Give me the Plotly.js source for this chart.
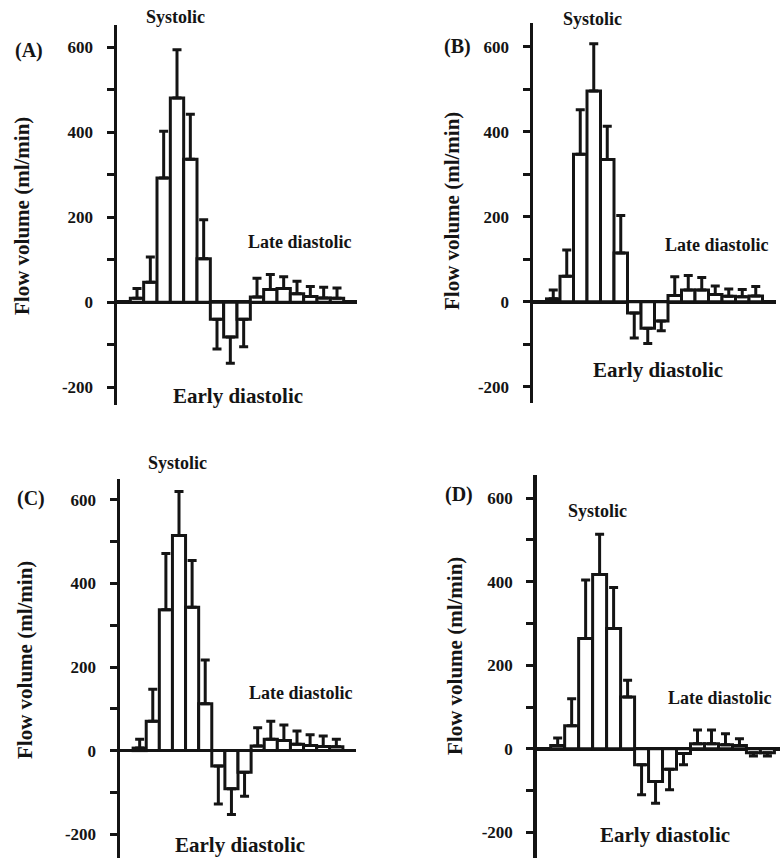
<!DOCTYPE html>
<html><head><meta charset="utf-8">
<script src="https://cdn.plot.ly/plotly-3.0.1.min.js"></script>
<style>html,body{margin:0;padding:0;background:#fff}#chart{width:780px;height:858px}</style>
</head><body><div id="chart"></div>
<script>
// time intervals across one cardiac cycle (16 bins)
const intervals = [1,2,3,4,5,6,7,8,9,10,11,12,13,14,15,16];

// Panel A
const meanA = [9, 47, 292, 480, 336, 102, -40, -82, -40, 12, 30, 32, 20, 13, 10, 9];
const sdA   = [23, 59, 110, 114, 106, 92, 70, 62, 65, 44, 35, 28, 29, 24, 25, 24];
// Panel B
const meanB = [7, 60, 347, 496, 335, 115, -26, -62, -45, 15, 28, 28, 17, 13, 12, 14];
const sdB   = [21, 62, 105, 111, 78, 88, 59, 36, 23, 44, 34, 29, 20, 17, 17, 22];
// Panel C
const meanC = [6, 70, 337, 515, 343, 112, -37, -91, -52, 11, 27, 24, 15, 12, 10, 9];
const sdC   = [21, 77, 135, 105, 112, 105, 91, 62, 57, 44, 43, 37, 32, 26, 25, 18];
// Panel D
const meanD = [8, 55, 264, 417, 288, 124, -38, -78, -49, -11, 12, 12, 10, 8, -9, -9];
const sdD   = [18, 65, 140, 96, 98, 40, 72, 52, 49, 27, 33, 33, 26, 16, 8, 8];

const yTickVals = [-200, -100, 0, 100, 200, 300, 400, 500, 600];
const yTickText = ['-200', '', '0', '', '200', '', '400', '', '600'];
const panelLabels = ['(A)', '(B)', '(C)', '(D)'];
const phaseLabels = ['Systolic', 'Late diastolic', 'Early diastolic'];
const yTitleText = 'Flow volume (ml/min)';

const INK = '#141414';
const FONT = 'Liberation Serif, Times New Roman, serif';
const W = 780, H = 858;

const means = [meanA, meanB, meanC, meanD];
const sds = [sdA, sdB, sdC, sdD];

// panel geometry (pixels)
const panels = [
  {x0:117, x1:357, y0:25,  y1:405, xr:[-0.5,17.5], yr:[-242,652],
   lab:[29,50], yt:[22,216], sys:[175,17], late:[300,242], early:[238,396]},
  {x0:533, x1:776, y0:23,  y1:403, xr:[-0.5,17.5], yr:[-238,656],
   lab:[457,47], yt:[452,211], sys:[592,19], late:[717,245], early:[658,370]},
  {x0:120, x1:356, y0:479, y1:858, xr:[-0.5,17.5], yr:[-257,650],
   lab:[31,498], yt:[25,660], sys:[177,463], late:[301,693], early:[240,845]},
  {x0:536.7, x1:780, y0:475, y1:858, xr:[-0.5,16.9], yr:[-261,655],
   lab:[459,495], yt:[455,656], sys:[597,511], late:[720,698], early:[665,835]}
];

const px = v => v / W;
const py = v => 1 - v / H;

const data = [];
const layout = {
  width: W, height: H,
  margin: {l:0, r:0, t:0, b:0},
  paper_bgcolor: '#fff', plot_bgcolor: 'rgba(0,0,0,0)',
  showlegend: false,
  bargap: 0,
  font: {family: FONT, color: INK},
  annotations: []
};

panels.forEach((p, i) => {
  const n = i === 0 ? '' : String(i + 1);
  const m = means[i], s = sds[i];
  data.push({
    type: 'bar', x: intervals, y: m, width: 1,
    xaxis: 'x' + n, yaxis: 'y' + n,
    marker: {color: '#ffffff', line: {color: INK, width: 3}},
    error_y: {
      type: 'data', symmetric: false,
      array: s.map((v, k) => m[k] >= 0 ? v : 0),
      arrayminus: s.map((v, k) => m[k] < 0 ? v : 0),
      color: INK, thickness: 3, width: 4.5
    },
    hoverinfo: 'skip'
  });
  layout['xaxis' + n] = {
    domain: [px(p.x0), Math.min(1, px(p.x1))], range: p.xr, anchor: 'y' + n,
    showline: false, showticklabels: false, ticks: '', showgrid: false, zeroline: false,
    fixedrange: true
  };
  layout['yaxis' + n] = {
    domain: [Math.max(0, py(p.y1)), py(p.y0)], range: p.yr, anchor: 'x' + n,
    showline: true, linecolor: INK, linewidth: 3.5,
    ticks: 'outside', ticklen: 7, tickwidth: 3, tickcolor: INK,
    tickvals: yTickVals, ticktext: yTickText.map(t => t ? '<b>' + t + '</b>' : ''),
    ticklabelstandoff: 10,
    tickfont: {family: FONT, size: 17, color: INK, weight: 700},
    showgrid: false, zeroline: true, zerolinecolor: INK, zerolinewidth: 3.5,
    fixedrange: true
  };
  const ann = (xy, text, size, extra) => Object.assign({
    xref: 'paper', yref: 'paper', x: px(xy[0]), y: py(xy[1]),
    xanchor: 'center', yanchor: 'middle', showarrow: false, text: '<b>' + text + '</b>',
    font: {family: FONT, size: size, color: INK}
  }, extra || {});
  layout.annotations.push(ann(p.lab, panelLabels[i], 20));
  layout.annotations.push(ann(p.yt, yTitleText, 21, {textangle: -90}));
  layout.annotations.push(ann(p.sys, phaseLabels[0], 18));
  layout.annotations.push(ann(p.late, phaseLabels[1], 18));
  layout.annotations.push(ann(p.early, phaseLabels[2], 21));
});

Plotly.newPlot('chart', data, layout, {displayModeBar: false, staticPlot: true});
</script>
</body></html>
